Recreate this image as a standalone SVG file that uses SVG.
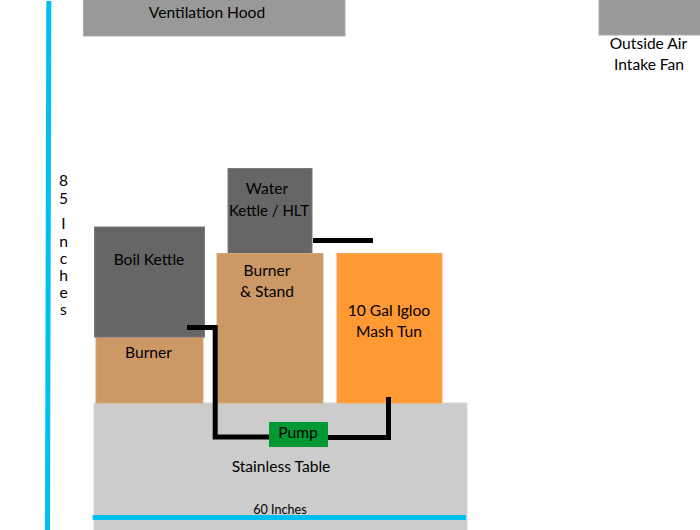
<svg xmlns="http://www.w3.org/2000/svg" width="700" height="530" viewBox="0 0 700 530">
<style>
text{font-family:Lato,"Liberation Sans",sans-serif;font-size:15.600px;fill:#000;text-anchor:middle}
.hood{fill:#999;stroke:#aaa;stroke-width:1}
.kettle{fill:#666;stroke:#7a7a7a;stroke-width:1}
.burner{fill:#c96;stroke:#d5a878;stroke-width:1}
.tun{fill:#f93;stroke:#fba858;stroke-width:1}
.table{fill:#ccc;stroke:#d8d8d8;stroke-width:1}
.pump{fill:#093}
.pipe{fill:none;stroke:#000;stroke-width:5;stroke-linejoin:miter}
.dim{fill:none;stroke:#00bff5;stroke-width:5}
</style>
<g id="table"><rect class="table" x="94" y="403" width="373" height="128"/><text x="281" y="472">Stainless Table</text></g>
<g id="hood"><rect class="hood" x="83.500" y="-1" width="261.500" height="37"/><text x="207" y="18">Ventilation Hood</text></g>
<g id="fan"><rect class="hood" x="599" y="-1" width="102" height="36"/><text x="648.500" y="49">Outside Air</text><text x="649" y="70">Intake Fan</text></g>
<g id="water-kettle"><rect class="kettle" x="228" y="168.500" width="84" height="85"/><text x="267" y="194">Water</text><text x="269" y="216" style="font-size:15px">Kettle / HLT</text></g>
<g id="burner-stand"><rect class="burner" x="217" y="253.500" width="106" height="149.500"/><text x="267" y="276">Burner</text><text x="267" y="297">&amp; Stand</text></g>
<g id="burner"><rect class="burner" x="96" y="337" width="107" height="66"/><text x="148.500" y="358">Burner</text></g>
<g id="boil-kettle"><rect class="kettle" x="94.500" y="227" width="110" height="110"/><text x="149" y="265">Boil Kettle</text></g>
<g id="mash-tun"><rect class="tun" x="337" y="253.500" width="105" height="149.500"/><text x="389" y="316">10 Gal Igloo</text><text x="389" y="337">Mash Tun</text></g>
<g id="pump"><rect class="pump" x="269" y="422" width="59" height="25"/><text x="298" y="438">Pump</text></g>
<g id="connectors">
<path class="pipe" d="M187 327.500H215.200V437H269"/>
<path class="pipe" d="M328 437.500H388.500V397"/>
<path class="pipe" d="M313 240.500H373"/>
<path class="dim" d="M48.800 1L47.500 530"/>
<path class="dim" d="M92.700 517.500H466"/>
</g>
<g id="dimension-85"><text><tspan x="63.500" y="186">8</tspan><tspan x="63.500" y="204">5</tspan><tspan x="63.500" y="229">I</tspan><tspan x="63.500" y="246.500">n</tspan><tspan x="63.500" y="263.500">c</tspan><tspan x="63.500" y="280.500">h</tspan><tspan x="63.500" y="298">e</tspan><tspan x="63.500" y="315">s</tspan></text></g>
<g id="dimension-60"><text x="280" y="514" style="font-size:12.600px">60 Inches</text></g>
</svg>
